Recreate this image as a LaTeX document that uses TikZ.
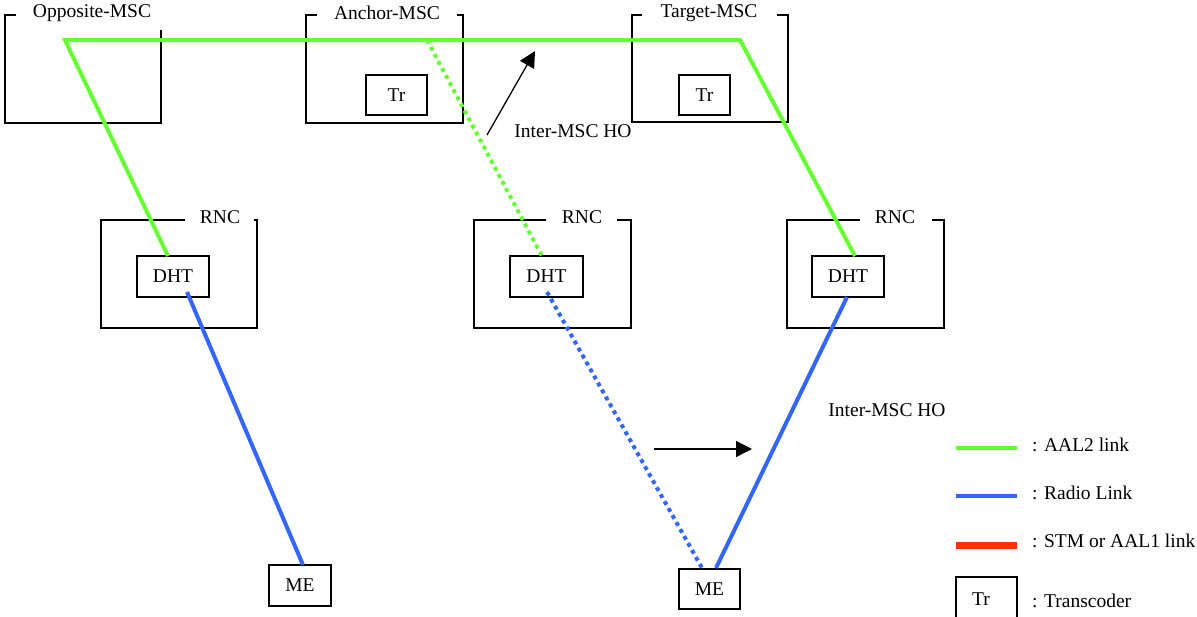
\documentclass[tikz,border=0pt]{standalone}
\usepackage{fontspec}
\setmainfont{Liberation Serif}
\usetikzlibrary{arrows.meta}
\definecolor{aalgreen}{HTML}{66FF33}
\definecolor{radioblue}{HTML}{3366FF}
\definecolor{stmred}{HTML}{FF3300}
\tikzset{
  txt/.style={font=\fontsize{19.5}{23}\selectfont, inner sep=0pt},
  frame/.style={draw=black, line width=1.5pt},
  unitbox/.style={draw=black, line width=1.5pt, font=\fontsize{19.5}{23}\selectfont, inner sep=0pt},
  aal/.style={draw=aalgreen, line width=4pt},
  aaldot/.style={draw=aalgreen, line width=4pt, dash pattern=on 4pt off 4pt},
  radio/.style={draw=radioblue, line width=4pt},
  radiodot/.style={draw=radioblue, line width=4pt, dash pattern=on 4pt off 4pt},
  stm/.style={draw=stmred, line width=7pt},
  hoarrow/.style={draw=black, line width=1.3pt, -{Triangle[length=16pt,width=16pt]}}
}
\begin{document}
\begin{tikzpicture}[x=1pt,y=-1pt]
\useasboundingbox (0,0) rectangle (1197,616);
% MSC frames
\draw[frame] (16,15) -- (5,15) -- (5,123) -- (161,123) -- (161,30);
\node[txt] (oppLbl) at (92,13) {Opposite-MSC};
\draw[frame] (317,15) -- (306,15) -- (306,123) -- (463,123) -- (463,15) -- (457,15);
\node[txt] (ancLbl) at (387,13) {Anchor-MSC};
\draw[frame] (642,15) -- (632,15) -- (632,122) -- (788,122) -- (788,15) -- (777,15);
\node[txt] (tgtLbl) at (709,13) {Target-MSC};
% transcoders
\node[unitbox, minimum width=61pt, minimum height=40pt] (trA) at (396.5,95) {Tr};
\node[unitbox, minimum width=51pt, minimum height=40pt] (trT) at (704.5,95) {Tr};
% RNC frames
\draw[frame] (185,220) -- (101,220) -- (101,328) -- (257,328) -- (257,220) -- (254,220);
\node[txt] (rncLLbl) at (220,217) {RNC};
\draw[frame] (546,220) -- (474,220) -- (474,328) -- (631,328) -- (631,220) -- (617,220);
\node[txt] (rncMLbl) at (582,217) {RNC};
\draw[frame] (860,220) -- (787,220) -- (787,328) -- (944,328) -- (944,220) -- (932,220);
\node[txt] (rncRLbl) at (895,217) {RNC};
% DHT
\node[unitbox, minimum width=72pt, minimum height=41pt] (dhtL) at (173,276.5) {DHT};
\node[unitbox, minimum width=73pt, minimum height=41pt] (dhtM) at (546.5,276.5) {DHT};
\node[unitbox, minimum width=72pt, minimum height=41pt] (dhtR) at (848,276.5) {DHT};
% ME
\node[unitbox, minimum width=62pt, minimum height=41pt] (meL) at (300,585.5) {ME};
\node[unitbox, minimum width=61pt, minimum height=40pt] (meR) at (709.5,589) {ME};
% link points
\coordinate (gOpp) at (65,40);
\coordinate (gTgt) at (740,40);
\coordinate (gAnc) at (427,40);
\coordinate (gL) at (168,256);
\coordinate (gM) at (542,256);
\coordinate (gR) at (855,256);
\coordinate (bL) at (187,292);
\coordinate (bM) at (547,292);
\coordinate (bR) at (847,297);
\coordinate (meLt) at (303,565);
\coordinate (meRt1) at (702,568);
\coordinate (meRt2) at (716,568);
% AAL2 links
\draw[aal, line join=miter] (gL) -- (gOpp) -- (gTgt) -- (gR);
\draw[aaldot] (gAnc) -- (gM);
% radio links
\draw[radio] (bL) -- (meLt);
\draw[radiodot] (bM) -- (meRt1);
\draw[radio] (bR) -- (meRt2);
% handover arrows
\coordinate (a1s) at (487,135);
\coordinate (a1e) at (535,51);
\draw[hoarrow] (a1s) -- (a1e);
\node[txt] (ho1) at (573,131) {Inter-MSC HO};
\coordinate (a2s) at (654,449);
\coordinate (a2e) at (752,449);
\draw[hoarrow] (a2s) -- (a2e);
\node[txt] (ho2) at (887,410) {Inter-MSC HO};
% legend
\coordinate (lg1) at (956,448); \coordinate (lg1e) at (1017,448);
\coordinate (lg2) at (956,496); \coordinate (lg2e) at (1017,496);
\coordinate (lg3) at (956,545); \coordinate (lg3e) at (1017,545);
\draw[aal] (lg1) -- (lg1e);
\draw[radio] (lg2) -- (lg2e);
\draw[stm] (lg3) -- (lg3e);
\node[txt, anchor=west] (lt1) at (1032,445) {: AAL2 link};
\node[txt, anchor=west] (lt2) at (1032,493) {: Radio Link};
\node[txt, anchor=west] (lt3) at (1032,541) {: STM or AAL1 link};
\draw[frame] (956,620) -- (956,577) -- (1017,577) -- (1017,620);
\node[txt] (ltr) at (981,599) {Tr};
\node[txt, anchor=west] (lt4) at (1032,601) {: Transcoder};
\end{tikzpicture}
\end{document}
